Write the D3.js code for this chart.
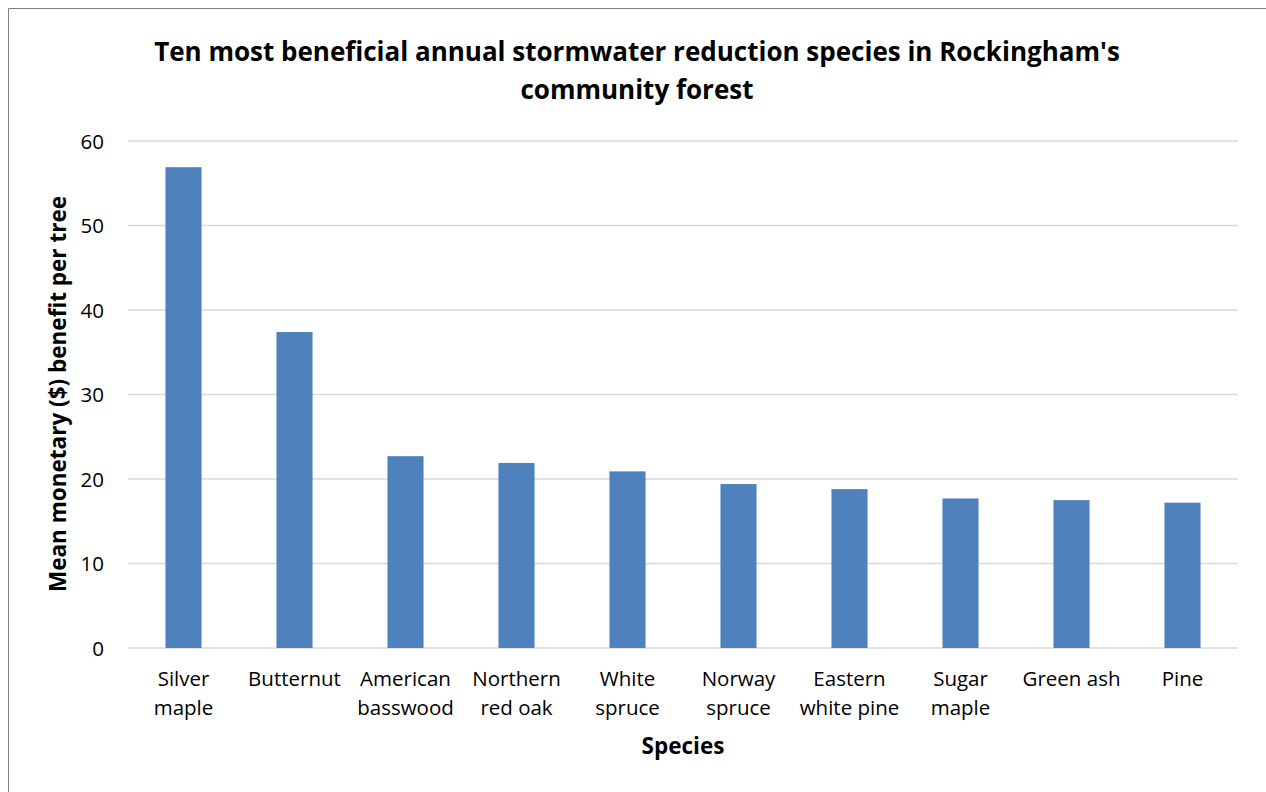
<!DOCTYPE html>
<html>
<head>
<meta charset="utf-8">
<script src="https://cdn.jsdelivr.net/npm/d3@7"></script>
<style>
  html, body { margin: 0; padding: 0; background: #ffffff; }
  svg { display: block; }
  text { font-family: "Open Sans", "Noto Sans", sans-serif; }
</style>
</head>
<body>
<svg id="chart" width="1266" height="792"></svg>
<script>
const categories = ["Silver maple", "Butternut", "American basswood", "Northern red oak", "White spruce",
                    "Norway spruce", "Eastern white pine", "Sugar maple", "Green ash", "Pine"];
const values = [56.9, 37.4, 22.7, 21.9, 20.9, 19.4, 18.8, 17.7, 17.5, 17.2];
const yTicks = [0, 10, 20, 30, 40, 50, 60];
const titleLines = ["Ten most beneficial annual stormwater reduction species in Rockingham's", "community forest"];
const xTitle = "Species";
const yTitle = "Mean monetary ($) benefit per tree";

const svg = d3.select("#chart");
const W = 1266, H = 792;
const margin = { left: 128, right: 28, top: 141, bottom: 144 };
const FONT = '"Open Sans", "Noto Sans", sans-serif';
const TICK_FS = 20.5;

// outer border
svg.append("path")
  .attr("d", `M${W + 2},8.5 H8.5 V${H + 2}`)
  .attr("fill", "none").attr("stroke", "#7f7f7f").attr("stroke-width", 1);

const x = d3.scaleBand().domain(categories)
  .range([margin.left, W - margin.right])
  .paddingInner(0.675).paddingOuter(0.3375);
const y = d3.scaleLinear().domain([0, 60]).range([H - margin.bottom, margin.top]);

// gridlines
svg.append("g").selectAll("line").data(yTicks).join("line")
  .attr("x1", margin.left).attr("x2", W - margin.right)
  .attr("y1", d => y(d)).attr("y2", d => y(d))
  .attr("stroke", "#d9d9d9").attr("stroke-width", 1.5);

// bars
svg.append("g").selectAll("rect").data(values).join("rect")
  .attr("x", (d, i) => x(categories[i]))
  .attr("width", x.bandwidth())
  .attr("y", d => y(d))
  .attr("height", d => y(0) - y(d))
  .attr("fill", "#4f81bd");

// y axis labels
const yAxis = d3.axisLeft(y).tickValues(yTicks).tickSize(0).tickPadding(0);
const gy = svg.append("g").attr("transform", `translate(104,0)`).call(yAxis);
gy.select(".domain").remove();
gy.selectAll("text").attr("font-size", TICK_FS).attr("fill", "#000").attr("dy", "0.35em")
  .style("font-family", FONT);

// x axis labels
const xAxis = d3.axisBottom(x).tickSize(0).tickPadding(0).tickFormat("");
const gx = svg.append("g").attr("transform", `translate(0,${y(0)})`).call(xAxis);
gx.select(".domain").remove();
const maxW = 106;
gx.selectAll(".tick").each(function(d) {
  const g = d3.select(this);
  const t = g.append("text").attr("text-anchor", "middle").attr("font-size", TICK_FS).attr("fill", "#000")
    .style("font-family", FONT);
  const words = d.split(" ");
  let lines = [], cur = "";
  const probe = g.append("text").attr("font-size", TICK_FS).style("font-family", FONT);
  words.forEach(w => {
    const test = cur ? cur + " " + w : w;
    probe.text(test);
    if (cur && probe.node().getComputedTextLength() > maxW) { lines.push(cur); cur = w; }
    else cur = test;
  });
  lines.push(cur);
  probe.remove();
  lines.forEach((l, i) => t.append("tspan").attr("x", 0).attr("y", 38 + i * 29).text(l));
});

// title
const tt = svg.append("text").attr("text-anchor", "middle").attr("font-size", 26).attr("font-weight", "bold").attr("fill", "#000");
titleLines.forEach((l, i) => tt.append("tspan").attr("x", 637).attr("y", 61 + i * 38).text(l));

// axis titles
svg.append("text").attr("x", 683).attr("y", 754).attr("text-anchor", "middle")
  .attr("font-size", 22.5).attr("font-weight", "bold").text(xTitle);
svg.append("text").attr("transform", `translate(66,394) rotate(-90)`).attr("text-anchor", "middle")
  .attr("font-size", 22.5).attr("font-weight", "bold").text(yTitle);
</script>
</body>
</html>
